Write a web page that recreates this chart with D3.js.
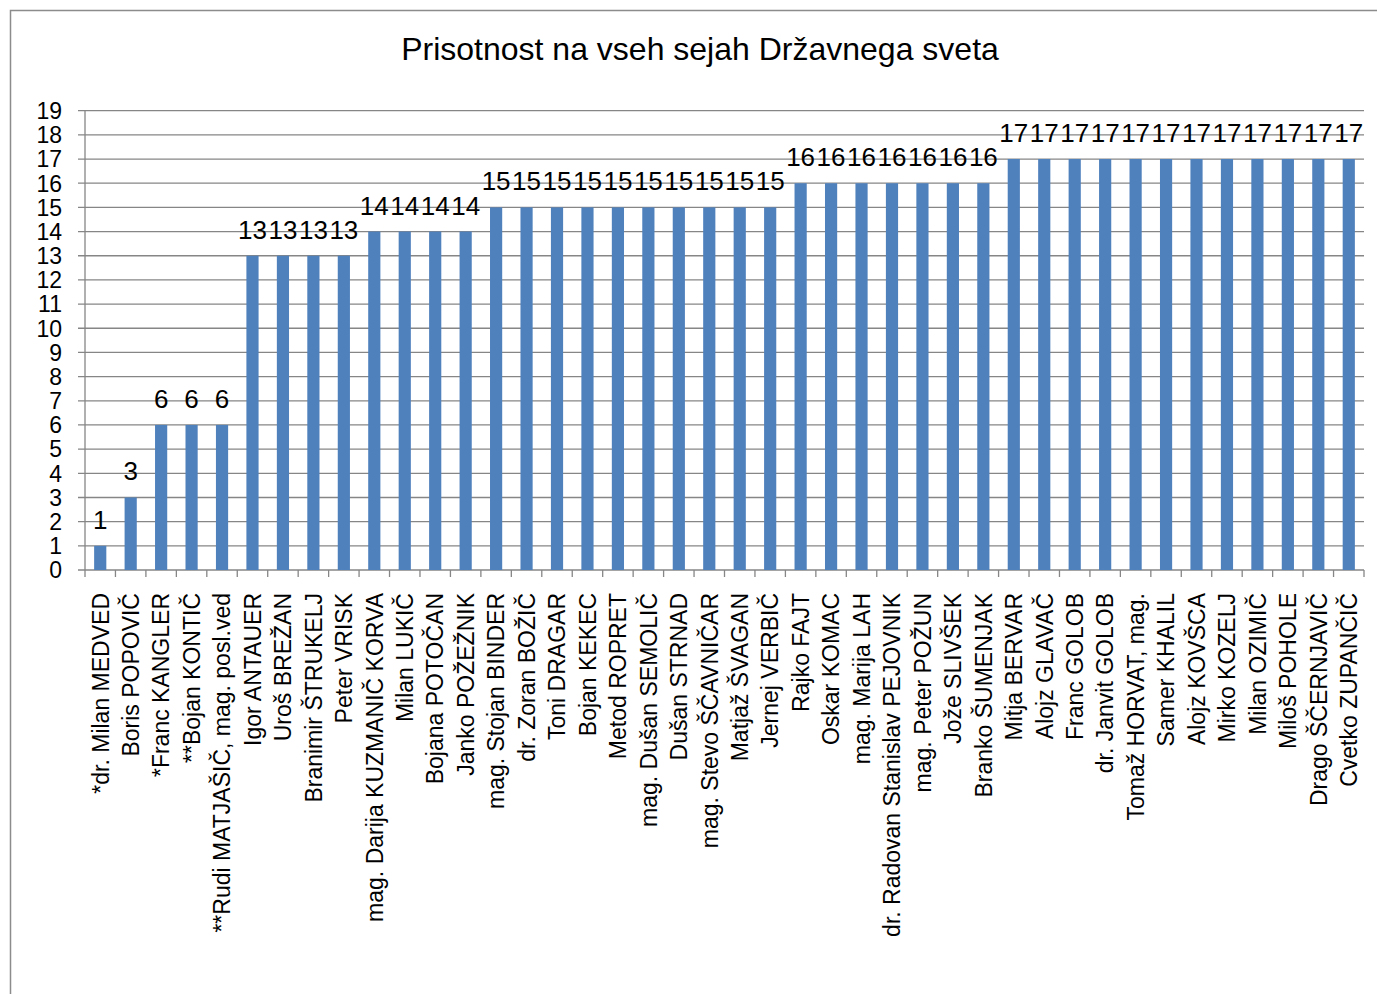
<!DOCTYPE html>
<html>
<head>
<meta charset="utf-8">
<script src="https://cdn.jsdelivr.net/npm/d3@7"></script>
<style>
  body { margin:0; background:#fff; }
  svg text { font-family:"Liberation Sans", Arial, sans-serif; fill:#000; }
</style>
</head>
<body>
<svg id="graf" width="1377" height="994"></svg>
<script>
///--------------------Données
var naslov = "Prisotnost na vseh sejah Državnega sveta";
var imena = [
  "*dr. Milan MEDVED", "Boris POPOVIČ", "*Franc KANGLER", "**Bojan KONTIČ",
  "**Rudi MATJAŠIČ, mag. posl.ved", "Igor ANTAUER", "Uroš BREŽAN", "Branimir ŠTRUKELJ",
  "Peter VRISK", "mag. Darija KUZMANIČ KORVA", "Milan LUKIČ", "Bojana POTOČAN",
  "Janko POŽEŽNIK", "mag. Stojan BINDER", "dr. Zoran BOŽIČ", "Toni DRAGAR",
  "Bojan KEKEC", "Metod ROPRET", "mag. Dušan SEMOLIČ", "Dušan STRNAD",
  "mag. Stevo ŠČAVNIČAR", "Matjaž ŠVAGAN", "Jernej VERBIČ", "Rajko FAJT",
  "Oskar KOMAC", "mag. Marija LAH", "dr. Radovan Stanislav PEJOVNIK", "mag. Peter POŽUN",
  "Jože SLIVŠEK", "Branko ŠUMENJAK", "Mitja BERVAR", "Alojz GLAVAČ",
  "Franc GOLOB", "dr. Janvit GOLOB", "Tomaž HORVAT, mag.", "Samer KHALIL",
  "Alojz KOVŠCA", "Mirko KOZELJ", "Milan OZIMIČ", "Miloš POHOLE",
  "Drago ŠČERNJAVIČ", "Cvetko ZUPANČIČ"
];
var prisotnost = [
  1, 3, 6, 6, 6, 13, 13, 13, 13, 14, 14, 14, 14,
  15, 15, 15, 15, 15, 15, 15, 15, 15, 15,
  16, 16, 16, 16, 16, 16, 16,
  17, 17, 17, 17, 17, 17, 17, 17, 17, 17, 17, 17
];
var yTicks = d3.range(0, 20);

///--------------------Variables géométriques
var gauche = 85, droite = 1364, haut = 110.7, bas = 570,
    grisLigne = "#868686", bleu = "#4F81BD";

var svg = d3.select("#graf");

// cadre
svg.append("rect")
  .attr("x", 10.5).attr("y", 10.5)
  .attr("width", 1400).attr("height", 1100)
  .attr("fill", "none").attr("stroke", "#8c8c8c").attr("stroke-width", 1.5);

// titre
svg.append("text")
  .attr("x", 700).attr("y", 60)
  .attr("text-anchor", "middle")
  .attr("font-size", 32)
  .text(naslov);

var x = d3.scaleBand().domain(imena).range([gauche, droite])
  .paddingInner(0.6).paddingOuter(0.3);
var y = d3.scaleLinear().domain([0, 19]).range([bas, haut]);

// grille + étiquettes Y
var gy = svg.append("g");
yTicks.forEach(function(t){
  gy.append("line")
    .attr("x1", gauche - 7).attr("x2", droite)
    .attr("y1", y(t)).attr("y2", y(t))
    .attr("stroke", grisLigne).attr("stroke-width", 1.3);
  gy.append("text")
    .attr("x", 62).attr("y", y(t)).attr("dy", "0.36em")
    .attr("text-anchor", "end")
    .attr("font-size", 23)
    .text(t);
});

// axe Y
svg.append("line")
  .attr("x1", gauche).attr("x2", gauche)
  .attr("y1", haut).attr("y2", bas)
  .attr("stroke", grisLigne).attr("stroke-width", 1.3);

// graduations X
var pas = x.step();
for(var i = 0; i <= imena.length; i++){
  var xx = gauche + i * pas;
  svg.append("line")
    .attr("x1", xx).attr("x2", xx)
    .attr("y1", bas).attr("y2", bas + 7)
    .attr("stroke", grisLigne).attr("stroke-width", 1.3);
}

// barres
svg.append("g").selectAll("rect")
  .data(imena)
  .enter().append("rect")
  .attr("x", function(d){ return x(d); })
  .attr("y", function(d, i){ return y(prisotnost[i]); })
  .attr("width", x.bandwidth())
  .attr("height", function(d, i){ return bas - y(prisotnost[i]); })
  .attr("fill", bleu);

// étiquettes de valeurs
svg.append("g").selectAll("text")
  .data(imena)
  .enter().append("text")
  .attr("x", function(d){ return x(d) + x.bandwidth() / 2; })
  .attr("y", function(d, i){ return y(prisotnost[i]) - 17; })
  .attr("text-anchor", "middle")
  .attr("font-size", 26)
  .text(function(d, i){ return prisotnost[i]; });

// étiquettes X
svg.append("g").selectAll("text")
  .data(imena)
  .enter().append("text")
  .attr("transform", function(d){
    return "translate(" + (x(d) + x.bandwidth() / 2) + ",593) rotate(-90)";
  })
  .attr("dy", "0.36em")
  .attr("text-anchor", "end")
  .attr("font-size", 23)
  .text(function(d){ return d; });
</script>
</body>
</html>
